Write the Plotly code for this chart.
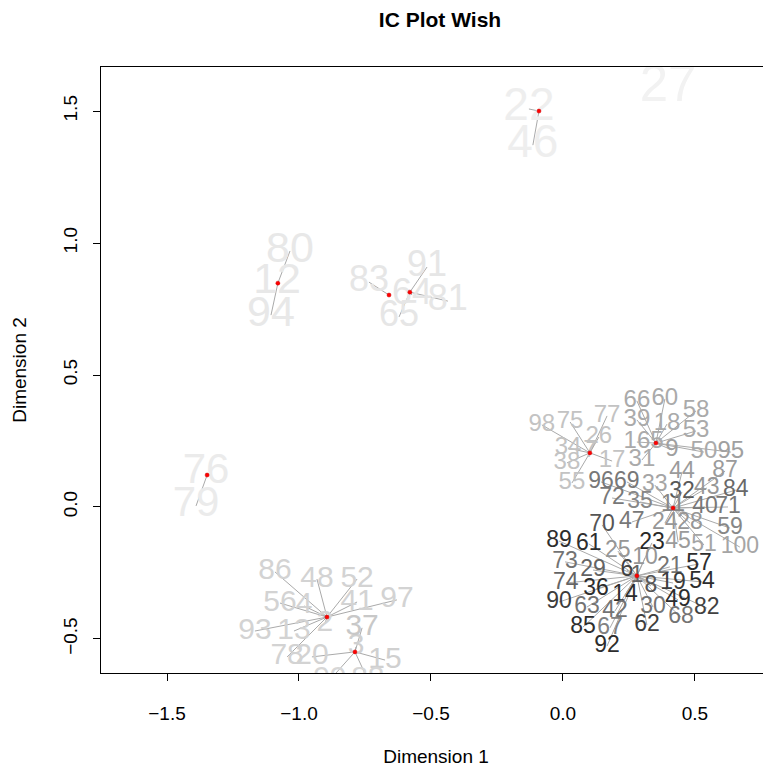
import plotly.graph_objects as go

# ---- data -------------------------------------------------------------
# cluster centres (Dimension 1, Dimension 2); None = centre not shown
cluster_dim1 = [None, -0.091, -1.348, -1.080, -0.659, -0.580, -0.894, -0.788, 0.102, 0.352, 0.417, 0.280]
cluster_dim2 = [None, 1.500, 0.121, 0.848, 0.803, 0.814, -0.417, -0.549, 0.205, 0.242, -0.004, -0.261]

item_labels = [
    "27",
    "22", "46",
    "76", "79",
    "80", "12", "94",
    "83",
    "64", "91", "81", "65",
    "86", "48", "52", "56", "4", "41", "97", "93", "13", "2", "78",
    "20", "3", "37", "15", "99", "88",
    "98", "75", "77", "26", "34", "7", "38", "17", "55",
    "66", "60", "39", "18", "58", "53", "16", "5", "9", "31", "50", "95",
    "44", "87", "33", "32", "43", "84", "69", "96", "72", "35", "11", "40", "71", "47", "24", "28", "59", "45", "51", "100",
    "70", "89", "61", "23", "25", "10", "73", "29", "6", "1", "21", "57", "74", "36", "8", "19", "54", "14", "90", "63",
    "42", "30", "49", "68", "82", "85", "67", "62", "92",
]
item_dim1 = [
    0.398,
    -0.129, -0.114,
    -1.352, -1.390,
    -1.034, -1.083, -1.106,
    -0.735,
    -0.572, -0.515, -0.436, -0.621,
    -1.091, -0.932, -0.780, -1.072, -0.981, -0.780, -0.629, -1.167, -1.019, -0.902, -1.045,
    -0.951, -0.784, -0.761, -0.674, -0.883, -0.739,
    -0.080, 0.027, 0.167, 0.136, 0.019, 0.102, 0.015, 0.186, 0.034,
    0.280, 0.386, 0.280, 0.394, 0.504, 0.504, 0.280, 0.356, 0.413, 0.299, 0.534, 0.636,
    0.451, 0.614, 0.348, 0.451, 0.545, 0.655, 0.242, 0.144, 0.186, 0.292, 0.417, 0.538, 0.625, 0.261, 0.386, 0.481, 0.633, 0.436, 0.534, 0.670,
    0.148, -0.015, 0.098, 0.337, 0.208, 0.311, 0.008, 0.114, 0.242, 0.280, 0.405, 0.515, 0.011, 0.125, 0.333, 0.417, 0.527, 0.235, -0.015, 0.091,
    0.197, 0.341, 0.436, 0.447, 0.545, 0.076, 0.178, 0.318, 0.167,
]
item_dim2 = [
    1.587,
    1.508, 1.371,
    0.129, 0.004,
    0.970, 0.852, 0.727,
    0.852,
    0.803, 0.909, 0.780, 0.720,
    -0.246, -0.273, -0.273, -0.364, -0.375, -0.360, -0.352, -0.470, -0.470, -0.443, -0.568,
    -0.568, -0.530, -0.458, -0.580, -0.655, -0.655,
    0.311, 0.322, 0.345, 0.265, 0.223, 0.212, 0.167, 0.174, 0.091,
    0.402, 0.409, 0.330, 0.314, 0.364, 0.288, 0.246, 0.246, 0.216, 0.178, 0.208, 0.208,
    0.133, 0.136, 0.083, 0.057, 0.072, 0.064, 0.095, 0.095, 0.034, 0.019, 0.008, 0.000, 0.000, -0.057, -0.061, -0.061, -0.080, -0.133, -0.144, -0.152,
    -0.068, -0.129, -0.140, -0.136, -0.167, -0.193, -0.208, -0.239, -0.239, -0.261, -0.227, -0.216, -0.288, -0.311, -0.299, -0.288, -0.284, -0.333, -0.360, -0.379,
    -0.394, -0.379, -0.352, -0.417, -0.383, -0.455, -0.458, -0.447, -0.527,
]
item_cluster = [
    0,
    1, 1,
    2, 2,
    3, 3, 3,
    4,
    5, 5, 5, 5,
    6, 6, 6, 6, 6, 6, 6, 6, 6, 6, 6,
    7, 7, 7, 7, 7, 7,
    8, 8, 8, 8, 8, 8, 8, 8, 8,
    9, 9, 9, 9, 9, 9, 9, 9, 9, 9, 9, 9,
    10, 10, 10, 10, 10, 10, 10, 10, 10, 10, 10, 10, 10, 10, 10, 10, 10, 10, 10, 10,
    11, 11, 11, 11, 11, 11, 11, 11, 11, 11, 11, 11, 11, 11, 11, 11, 11, 11, 11, 11,
    11, 11, 11, 11, 11, 11, 11, 11, 11,
]

# ---- styles -------------------------------------------------------------
cluster_font_px = [51, 46, 42, 43, 36, 36, 30, 30, 24, 24, 23, 23]
item_grey = [
    242,
    238, 238,
    235, 235,
    232, 232, 232,
    230,
    230, 230, 230, 230,
    211, 211, 211, 211, 211, 211, 211, 211, 211, 211, 211,
    211, 208, 200, 208, 215, 215,
    195, 195, 195, 195, 195, 195, 195, 195, 195,
    170, 170, 170, 170, 170, 170, 170, 170, 160, 170, 170, 160,
    155, 155, 165, 90, 150, 105, 120, 120, 120, 135, 135, 120, 120, 120, 150, 150, 135, 155, 165, 165,
    85, 45, 45, 40, 150, 150, 115, 100, 65, 100, 115, 45, 100, 45, 85, 60, 45, 45, 60, 115,
    115, 115, 45, 115, 65, 45, 130, 62, 45,
]

FONT = "Liberation Sans, Arial, Helvetica, sans-serif"
W, H = 763, 759   # page body has an 8px margin

# segments from cluster centre to each item
seg_x, seg_y = [], []
for x, y, c in zip(item_dim1, item_dim2, item_cluster):
    cx, cy = cluster_dim1[c], cluster_dim2[c]
    if cx is None:
        continue
    seg_x += [cx, x, None]
    seg_y += [cy, y, None]

fig = go.Figure()
fig.add_trace(go.Scatter(
    x=seg_x, y=seg_y, mode="lines",
    line=dict(color="#aaaaaa", width=1),
    hoverinfo="skip", showlegend=False, cliponaxis=True,
))
fig.add_trace(go.Scatter(
    x=item_dim1, y=item_dim2, mode="text", text=item_labels,
    textposition="middle center",
    textfont=dict(
        family=FONT,
        size=[cluster_font_px[c] for c in item_cluster],
        color=[f"rgb({g},{g},{g})" for g in item_grey],
    ),
    cliponaxis=True, hoverinfo="text", showlegend=False,
))
cx_shown = [x for x in cluster_dim1 if x is not None]
cy_shown = [y for y in cluster_dim2 if y is not None]
fig.add_trace(go.Scatter(
    x=cx_shown, y=cy_shown, mode="markers",
    marker=dict(color="red", size=4, line=dict(color="#cc0000", width=0.5)),
    hoverinfo="skip", showlegend=False,
))

axis_common = dict(
    showgrid=False, zeroline=False, showline=True, linecolor="black", linewidth=1,
    ticks="outside", ticklen=7, tickcolor="black", tickwidth=1,
    tickfont=dict(family=FONT, size=19, color="black"),
    tickformat=".1f",
)
fig.update_layout(
    width=W, height=H,
    margin=dict(l=93, r=0, t=59, b=94, autoexpand=False),
    paper_bgcolor="white", plot_bgcolor="white",
    title=dict(text="<b>IC Plot Wish</b>", x=432 / W, xanchor="center",
               y=1 - 12 / H, yanchor="middle",
               font=dict(family=FONT, size=21, color="black")),
    xaxis=dict(range=[-1.75, 0.788], tickvals=[-1.5, -1.0, -0.5, 0.0, 0.5],
               mirror=True, ticklabelstandoff=16,
               title=dict(text="Dimension 1", font=dict(family=FONT, size=19, color="black"), standoff=28),
               **axis_common),
    yaxis=dict(range=[-0.629, 1.667], tickvals=[-0.5, 0.0, 0.5, 1.0, 1.5],
               mirror=False, tickangle=-90, ticklabelstandoff=8,
               title=dict(text="Dimension 2", font=dict(family=FONT, size=19, color="black"), standoff=28),
               **axis_common),
)
fig.write_html("out.html")
